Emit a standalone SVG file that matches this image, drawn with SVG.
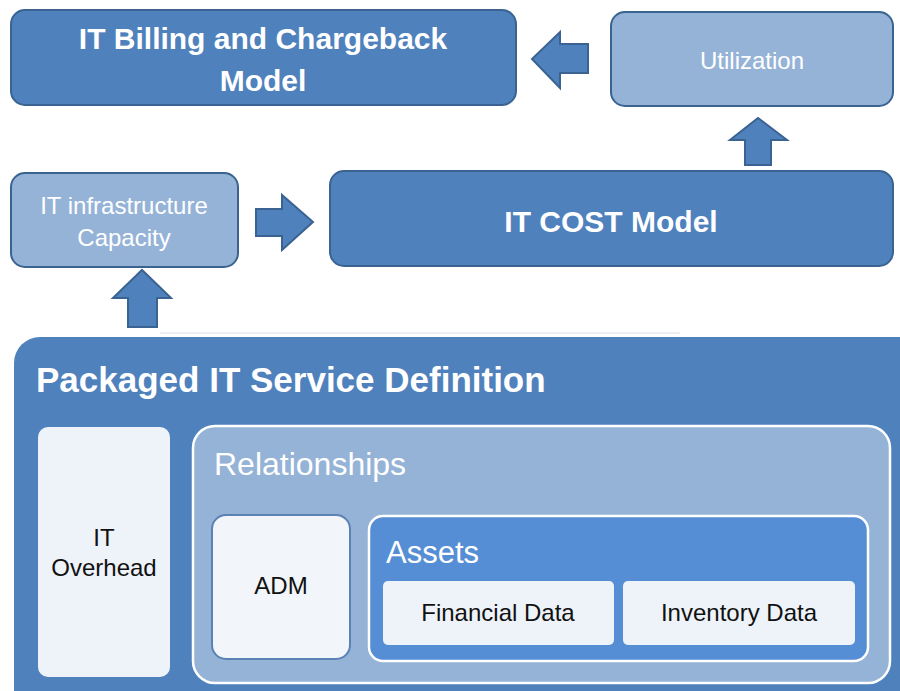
<svg xmlns="http://www.w3.org/2000/svg" width="900" height="691" viewBox="0 0 900 691">
<style>
.dark{fill:#4f81bd;stroke:#3a6392;stroke-width:2}
.light{fill:#95b3d7;stroke:#3a6392;stroke-width:2}
.arrow{fill:#4f81bd;stroke:#3a6392;stroke-width:2;stroke-linejoin:miter}
.wt{font-family:"Liberation Sans",Arial,sans-serif;fill:#ffffff;text-anchor:middle}
.bt{font-family:"Liberation Sans",Arial,sans-serif;fill:#111111;text-anchor:middle}
.pale{fill:#eef3fa}
</style>
<rect width="900" height="691" fill="#ffffff"/>
<g id="billing">
<rect class="dark" x="11" y="10" width="505" height="95" rx="14"/>
<text class="wt" x="263" y="49" font-size="30" font-weight="bold">IT Billing and Chargeback</text>
<text class="wt" x="263" y="91" font-size="30" font-weight="bold">Model</text>
</g>
<g id="utilization">
<rect class="light" x="611" y="12" width="282" height="94" rx="14"/>
<text class="wt" x="752" y="69" font-size="24">Utilization</text>
</g>
<g id="capacity">
<rect class="light" x="11" y="173" width="227" height="94" rx="14"/>
<text class="wt" x="124" y="214" font-size="24">IT infrastructure</text>
<text class="wt" x="124" y="246" font-size="24">Capacity</text>
</g>
<g id="cost">
<rect class="dark" x="330" y="171" width="563" height="95" rx="14"/>
<text class="wt" x="611" y="232" font-size="30" font-weight="bold">IT COST Model</text>
</g>
<g id="connectors">
<polygon class="arrow" points="588,44 560,44 560,32 532,59 560,88 560,73 588,73"/>
<polygon class="arrow" points="745,165 745,140 730,140 758,118 787,140 771,140 771,165"/>
<polygon class="arrow" points="256,209 282,209 282,195 313,222 282,250 282,236 256,236"/>
<polygon class="arrow" points="128,327 128,298 113,298 142,270 171,298 157,298 157,327"/>
</g>
<line x1="160" y1="333" x2="680" y2="333" stroke="#e4e8ef" stroke-width="1.5"/>
<g id="packaged">
<rect x="14" y="337" width="910" height="380" rx="26" fill="#4f81bd"/>
<text x="36" y="392" font-family="Liberation Sans,Arial,sans-serif" font-size="35" font-weight="bold" fill="#ffffff">Packaged IT Service Definition</text>
</g>
<g id="overhead">
<rect class="pale" x="38" y="427" width="132" height="250" rx="10"/>
<text class="bt" x="104" y="546" font-size="24">IT</text>
<text class="bt" x="104" y="576" font-size="24">Overhead</text>
</g>
<g id="relationships">
<rect x="193" y="426" width="697" height="257" rx="22" fill="#95b3d7" stroke="#ffffff" stroke-width="2.5"/>
<text x="214" y="475" font-family="Liberation Sans,Arial,sans-serif" font-size="32" fill="#ffffff">Relationships</text>
</g>
<g id="adm">
<rect x="212" y="515" width="138" height="144" rx="14" fill="#f2f5fa" stroke="#5a82b5" stroke-width="2"/>
<text class="bt" x="281" y="594" font-size="24">ADM</text>
</g>
<g id="assets">
<rect x="369" y="516" width="499" height="145" rx="14" fill="#558ed5" stroke="#ffffff" stroke-width="2.5"/>
<text x="386" y="563" font-family="Liberation Sans,Arial,sans-serif" font-size="31" fill="#ffffff">Assets</text>
</g>
<g id="financial">
<rect class="pale" x="383" y="581" width="231" height="64" rx="5"/>
<text class="bt" x="498" y="621" font-size="24">Financial Data</text>
</g>
<g id="inventory">
<rect class="pale" x="623" y="581" width="232" height="64" rx="5"/>
<text class="bt" x="739" y="621" font-size="24">Inventory Data</text>
</g>
</svg>
